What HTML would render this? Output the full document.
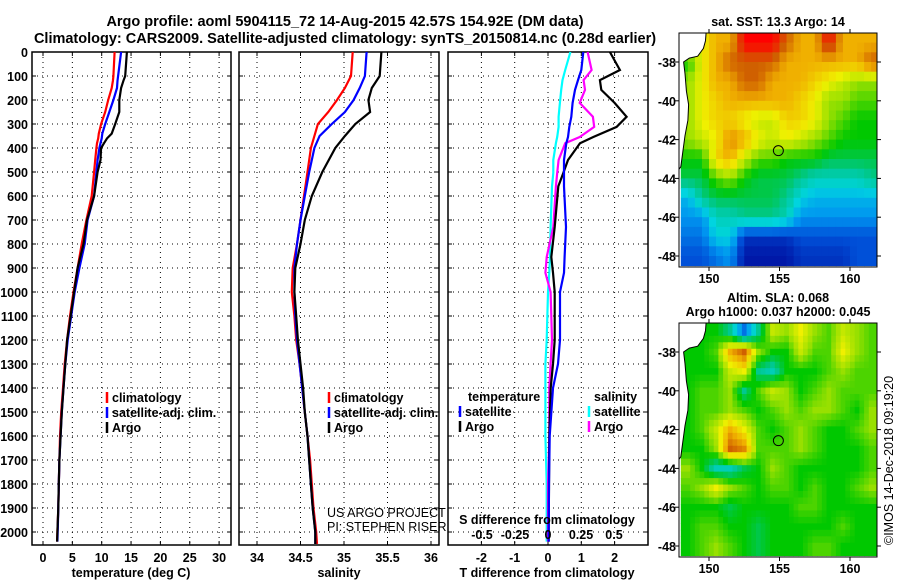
<!DOCTYPE html>
<html><head><meta charset="utf-8"><style>
body{margin:0;background:#fff;}
svg text{font-family:"Liberation Sans",Arial,sans-serif;}
</style></head><body>
<svg id="s" width="900" height="580" viewBox="0 0 900 580" xmlns="http://www.w3.org/2000/svg">
<text x="345" y="26" text-anchor="middle" font-size="14.5" font-weight="bold">Argo profile: aoml 5904115_72 14-Aug-2015 42.57S 154.92E (DM data)</text>
<text x="345" y="43" text-anchor="middle" font-size="14.5" font-weight="bold">Climatology: CARS2009. Satellite-adjusted climatology: synTS_20150814.nc (0.28d earlier)</text>
<text x="778" y="26" text-anchor="middle" font-size="12.5" font-weight="bold">sat. SST: 13.3 Argo: 14</text>
<text x="778" y="302" text-anchor="middle" font-size="12.5" font-weight="bold">Altim. SLA: 0.068</text>
<text x="778" y="316" text-anchor="middle" font-size="12.5" font-weight="bold">Argo h1000: 0.037 h2000: 0.045</text>
<text transform="translate(893,545) rotate(-90)" font-size="12.5">©IMOS 14-Dec-2018 09:19:20</text>
<g id="g"></g>
</svg>
<script>
// ---------- data ----------
const depthT=[0,100,120,150,200,250,300,340,360,380,400,450,500,600,700,800,900,1000,1100,1200,1300,1400,1500,1600,1700,1800,1900,2000,2040];
const tempArgo=[14.3,14.0,13.7,13.3,13.0,13.0,12.3,11.7,10.9,10.4,9.9,9.8,9.3,8.7,7.5,6.9,5.9,5.3,4.7,4.1,3.8,3.5,3.2,3.0,2.8,2.7,2.6,2.45,2.4];
const tempClim=[12.2,12.0,11.9,11.7,11.1,10.6,9.9,9.5,9.4,9.2,9.1,8.9,8.7,8.3,7.4,6.6,5.9,5.2,4.6,4.1,3.7,3.4,3.1,2.9,2.8,2.7,2.6,2.45,2.4];
const tempSat=[13.3,12.8,12.7,12.6,12.0,11.3,10.6,10.1,10.0,9.8,9.6,9.3,9.1,8.7,7.6,7.1,6.2,5.4,4.8,4.2,3.8,3.5,3.2,3.0,2.8,2.7,2.6,2.5,2.45];
const depthS=[0,100,150,200,250,300,350,400,500,600,700,800,900,1000,1100,1200,1300,1400,1500,1600,1700,1800,1900,2000,2050];
const salArgo=[35.43,35.41,35.32,35.28,35.30,35.13,35.01,34.90,34.75,34.63,34.55,34.50,34.44,34.43,34.45,34.47,34.50,34.53,34.55,34.58,34.60,34.62,34.64,34.67,34.67];
const salClim=[35.10,35.08,35.01,34.92,34.82,34.70,34.66,34.62,34.58,34.54,34.50,34.46,34.41,34.40,34.43,34.45,34.49,34.52,34.55,34.58,34.61,34.63,34.65,34.68,34.69];
const salSat=[35.26,35.24,35.18,35.11,35.01,34.86,34.72,34.66,34.60,34.55,34.50,34.46,34.43,34.43,34.44,34.46,34.49,34.52,34.55,34.58,34.60,34.62,34.64,34.67,34.67];
const depthD=[0,75,117,158,212,270,312,354,380,450,504,560,729,854,920,1000,1200,1300,1400,1600,1800,2000,2040];
const dTArgo=[1.86,2.16,1.56,1.6,2.0,2.36,2.06,1.36,0.96,0.6,0.46,0.31,0.2,0.1,0.15,0.2,0.2,0.15,0.08,0.04,0.03,0.02,0.02];
const dTSat=[1.06,1.0,0.9,0.81,0.74,0.7,0.64,0.6,0.55,0.48,0.48,0.48,0.54,0.5,0.48,0.36,0.36,0.3,0.15,0.05,0.03,0.02,0.02];
const dSArgo=[0.30,0.33,0.27,0.28,0.24,0.34,0.35,0.24,0.13,0.08,0.07,0.06,0.04,-0.01,-0.02,0.02,0.03,0.02,0.01,0.01,0.0,0.0,0.0];
const dSSat=[0.17,0.13,0.11,0.10,0.09,0.08,0.08,0.07,0.06,0.04,0.04,0.03,0.02,0.015,0.01,0.0,-0.01,-0.02,-0.02,-0.02,-0.01,-0.01,-0.01];
const depthTicks=[0,100,200,300,400,500,600,700,800,900,1000,1100,1200,1300,1400,1500,1600,1700,1800,1900,2000];
const tempTicks=[0,5,10,15,20,25,30];
const salTicks=[34,34.5,35,35.5,36];
const dTTicks=[-2,-1,0,1,2];
const dSTicks=[-0.5,-0.25,0,0.25,0.5];
const mapLons=[148.5,149.5,150.5,151.5,152.5,153.5,154.5,155.5,156.5,157.5,158.5,159.5,160.5,161.5];
const mapLats=[-37,-38,-39,-40,-41,-42,-43,-44,-45,-46,-47,-48];
const lonTicks=[150,155,160];
const latTicks=[-38,-40,-42,-44,-46,-48];
const sst=[
[8,8,9,9,11,11,11,10,9,9,11,9,9,9],
[6,8,9,10,10,10,10,9,9,9,9,9,9,10],
[7,8,9,9,10,10,9,9,9,8.5,8,7.5,7,7],
[7,8,8.5,9,9,9,9,9,8.5,8,7,7,6.5,6.5],
[7,8,8.5,8.5,8,7.5,7.5,8.5,8.5,8,7,6.5,6,6],
[7,7.5,8,9.5,9,8,7.5,8,7.5,7,6.5,6,6,6],
[6,6,8.5,9,7.5,6.5,6.5,6,6,6,5.5,5.5,5.5,5.5],
[5.5,5.5,6.5,7,6,5.5,5.5,5.5,5,4.5,4.5,4.5,4.5,5],
[3.5,5,5.5,5.5,5.5,5.5,5.5,5,4,3.5,3.5,3.5,3.5,3.5],
[3,3,4.5,4.5,5,5,5,4.5,3,3,3,3,3,3],
[2.5,2.5,4,4,1.5,1.5,1.5,1.5,2,2,2,2,2,2],
[2,2,2.5,3,1,1,1,1,1.5,1.5,1.5,1.5,2,2]];
const sla=[
[6,6,6,5,2.5,5,7.5,7,8,7,6.5,7.5,7,6.5],
[6,6,6.5,9,10,7,6,6,7.5,6.5,6.5,8,7,6.5],
[6,6,6,7.5,8,5,4.5,6,6,6,6.5,7,6.5,6.5],
[6,6.5,6.5,7,5,6.5,7.5,7,6,6.5,7,6.5,6.5,6.5],
[6,6.5,6.5,7,6.5,6,6.5,7,6.5,7,7,6.5,6,7],
[6,6.5,7.5,9,8,6.5,6,6.5,7,6.5,6,6,6.5,7],
[6,6,7,10,9.5,6.5,6.5,6.5,7,6.5,6,6,6,6.5],
[7,6,4.5,4.5,5.5,6,7,6.5,6,6,6,6,6,6.5],
[6.5,7,8,7,6.5,6,6.5,6.5,6,6.5,6,6,6.5,7],
[6,6,6,5.5,6,6,6,6,6.5,6.5,6,6,6,6],
[6,6.5,6.5,6,6,5.5,6,6,6,6,6,6.5,6,6],
[6,6.5,7,6.5,6,5.5,6,6,6,6.5,6.5,6,6,6]];
const argoLon=154.92, argoLat=-42.57;

// ---------- helpers ----------
const NS='http://www.w3.org/2000/svg';
const G=document.getElementById('g');
function mk(tag,attrs,parent){const e=document.createElementNS(NS,tag);for(const k in attrs)e.setAttribute(k,attrs[k]);(parent||G).appendChild(e);return e;}
function txt(x,y,s,size,anchor,bold,parent){const e=mk('text',{x:x,y:y,'font-size':size,'text-anchor':anchor||'middle','font-weight':bold?'bold':'normal'},parent);e.textContent=s;return e;}
const yD=d=>52+d*0.24;
const TOP=52,BOT=545;
const xT=t=>43+t*5.87;
const xS=s=>257+(s-34)*87;
const xdT=t=>548+t*33.3;
const xdS=s=>548+s*132;

function panel(name,x0,x1,xticks,xf,tickLabels,showY){
  const g=mk('g',{});
  
  
  depthTicks.forEach(d=>{const l=mk('line',{x1:x0,x2:x1,y1:yD(d),y2:yD(d),stroke:'#000','stroke-width':1,'stroke-dasharray':'1,4'},g);
    
    mk('line',{x1:x0,x2:x0+4,y1:yD(d),y2:yD(d),stroke:'#000'},g);mk('line',{x1:x1-4,x2:x1,y1:yD(d),y2:yD(d),stroke:'#000'},g);
    if(showY){const t=txt(28,yD(d)+5,String(d),12.5,'end',true,g);}
  });
  xticks.forEach((v,i)=>{const X=xf(v);const l=mk('line',{x1:X,x2:X,y1:TOP,y2:BOT,stroke:'#000','stroke-width':1,'stroke-dasharray':'1,4'},g);
    
    mk('line',{x1:X,x2:X,y1:BOT-4,y2:BOT,stroke:'#000'},g);mk('line',{x1:X,x2:X,y1:TOP,y2:TOP+4,stroke:'#000'},g);
    const t=txt(X,562,tickLabels[i],12.5,'middle',true,g);
  });
  const r=mk('rect',{x:x0,y:TOP,width:x1-x0,height:BOT-TOP,fill:'none',stroke:'#000','stroke-width':1.5},g);
  
  return g;
}
function line(g,xs,ds,xf,color,name){
  const pts=xs.map((v,i)=>xf(v).toFixed(1)+','+yD(ds[i]).toFixed(1)).join(' ');
  const p=mk('polyline',{points:pts,fill:'none',stroke:color,'stroke-width':2.2},g);
  
  
}
function legend(g,x,y,color,label,name){
  const l=mk('line',{x1:x,x2:x,y1:y-10,y2:y+1,stroke:color,'stroke-width':2.5},g);
  
  const t=txt(x+5,y,label,12.5,'start',true,g);
  
}

// Panel 1 temperature
const p1=panel('temperature-panel',32,231,tempTicks,xT,tempTicks.map(String),true);
line(p1,tempClim,depthT,xT,'#f00','temp-clim-line');
line(p1,tempSat,depthT,xT,'#00f','temp-sat-line');
line(p1,tempArgo,depthT,xT,'#000','temp-argo-line');
legend(p1,107,402,'#f00','climatology','legend-climatology');
legend(p1,107,417,'#00f','satellite-adj. clim.','legend-satellite');
legend(p1,107,432,'#000','Argo','legend-argo');
let t=txt(131,577,'temperature (deg C)',12.5,'middle',true,p1);

// Panel 2 salinity
const p2=panel('salinity-panel',239,439,salTicks,xS,['34','34.5','35','35.5','36'],false);
line(p2,salClim,depthS,xS,'#f00','sal-clim-line');
line(p2,salSat,depthS,xS,'#00f','sal-sat-line');
line(p2,salArgo,depthS,xS,'#000','sal-argo-line');
legend(p2,329,402,'#f00','climatology','legend-climatology');
legend(p2,329,417,'#00f','satellite-adj. clim.','legend-satellite');
legend(p2,329,432,'#000','Argo','legend-argo');
t=txt(327,517,'US ARGO PROJECT',12.5,'start',false,p2);
t=txt(327,531,'PI: STEPHEN RISER',12.5,'start',false,p2);
t=txt(339,577,'salinity',12.5,'middle',true,p2);

// Panel 3 differences
const p3=panel('difference-panel',448,648,dTTicks,xdT,dTTicks.map(String),false);
line(p3,dSSat,depthD,xdS,'#0ff','sal-sat-diff-line');
line(p3,dSArgo,depthD,xdS,'#f0f','sal-argo-diff-line');
line(p3,dTArgo,depthD,xdT,'#000','temp-argo-diff-line');
line(p3,dTSat,depthD,xdT,'#00f','temp-sat-diff-line');
t=txt(468,401,'temperature',12.5,'start',true,p3);
legend(p3,460,416,'#00f','satellite','legend-temp-satellite');
legend(p3,460,431,'#000','Argo','legend-temp-argo');
t=txt(594,401,'salinity',12.5,'start',true,p3);
legend(p3,589,416,'#0ff','satellite','legend-sal-satellite');
legend(p3,589,431,'#f0f','Argo','legend-sal-argo');
t=txt(547,524,'S difference from climatology',12.5,'middle',true,p3);
dSTicks.forEach(v=>{const e=txt(xdS(v),539,String(v),12.5,'middle',true,p3);});
t=txt(547,577,'T difference from climatology',12.5,'middle',true,p3);

// ---------- maps ----------
const cmap=['#000080','#0018a8','#0050d8','#0094f0','#00d4e0','#00c890','#00c800','#98e000','#f0f000','#f0b000','#d06000','#ff0000'];
function hex(c){return [parseInt(c.substr(1,2),16),parseInt(c.substr(3,2),16),parseInt(c.substr(5,2),16)];}
function col(v){v=Math.max(0,Math.min(11,v));const i=Math.min(10,Math.floor(v)),f=v-i;const a=hex(cmap[i]),b=hex(cmap[i+1]);
  return 'rgb('+a.map((x,k)=>Math.round(x+(b[k]-x)*f)).join(',')+')';}
const lonX=l=>709+(l-150)*14.1;
function mapPanel(name,grid,yoff,sub){
  const x0=679,x1=877,y0=33+yoff,y1=267+yoff;
  const latY=a=>62+yoff+(-38-a)*19.4;
  const g=mk('g',{});
  
  
  const cw=14.1/sub,ch=19.4/sub;
  const nr=mapLats.length,nc=mapLons.length;
  for(let r=0;r<nr*sub;r++)for(let c=0;c<nc*sub;c++){
    const fr=(r+0.5)/sub-0.5,fc=(c+0.5)/sub-0.5;
    const r0=Math.max(0,Math.min(nr-1,Math.floor(fr))),c0=Math.max(0,Math.min(nc-1,Math.floor(fc)));
    const r1=Math.min(nr-1,r0+1),c1=Math.min(nc-1,c0+1);
    const ar=Math.max(0,Math.min(1,fr-r0)),ac=Math.max(0,Math.min(1,fc-c0));
    const v=sub==1?grid[r][c]:(grid[r0][c0]*(1-ar)*(1-ac)+grid[r0][c1]*(1-ar)*ac+grid[r1][c0]*ar*(1-ac)+grid[r1][c1]*ar*ac);
    const lon0=mapLons[0]-0.5+c/sub, lat0=mapLats[0]+0.5-r/sub;
    const X=lonX(lon0),Y=latY(lat0);
    const rc=mk('rect',{x:X.toFixed(2),y:Y.toFixed(2),width:(cw+0.4).toFixed(2),height:(ch+0.4).toFixed(2),fill:col(v)},g);
    
    
  }
  const land=[[147.8,-36.4],[149.8,-36.4],[149.75,-36.9],[149.6,-37.3],[149.2,-37.7],[148.6,-37.8],[148.2,-38.0],[148.3,-38.6],[148.4,-39.5],[148.55,-40.2],[148.5,-41.0],[148.3,-41.8],[148.15,-42.6],[148.0,-43.4],[147.8,-43.6]];
  const lp=mk('polygon',{points:land.map(p=>lonX(p[0]).toFixed(1)+','+latY(p[1]).toFixed(1)).join(' '),fill:'#fff',stroke:'#000','stroke-width':1},g);
  
  mk('rect',{x:x0-12,y:y0-20,width:x1-x0+24,height:20,fill:'#fff'},g);
  mk('rect',{x:x0-12,y:y1,width:x1-x0+24,height:12,fill:'#fff'},g);
  mk('rect',{x:x1,y:y0,width:10,height:y1-y0,fill:'#fff'},g);
  mk('rect',{x:x0-10,y:y0,width:10,height:y1-y0,fill:'#fff'},g);
  const ci=mk('circle',{cx:lonX(argoLon),cy:latY(argoLat),r:5,fill:'none',stroke:'#000','stroke-width':1},g);
  
  const fr=mk('rect',{x:x0,y:y0,width:x1-x0,height:y1-y0,fill:'none',stroke:'#000','stroke-width':1},g);
  
  lonTicks.forEach(l=>{const X=lonX(l);mk('line',{x1:X,x2:X,y1:y0-4,y2:y0,stroke:'#000'},g);mk('line',{x1:X,x2:X,y1:y1,y2:y1+4,stroke:'#000'},g);
    const e=txt(X,y1+16,String(l),12.5,'middle',true,g);});
  latTicks.forEach(a=>{const Y=latY(a);mk('line',{x1:x0-4,x2:x0,y1:Y,y2:Y,stroke:'#000'},g);mk('line',{x1:x1,x2:x1+4,y1:Y,y2:Y,stroke:'#000'},g);
    const e=txt(676,Y+5,String(a),12.5,'end',true,g);});
}
mapPanel('sst-map',sst,0,2);
mapPanel('sla-map',sla,290,3);
const s=document.getElementById('s');
[...s.querySelectorAll(':scope > text')].forEach(e=>s.appendChild(e));
</script>
</body></html>
